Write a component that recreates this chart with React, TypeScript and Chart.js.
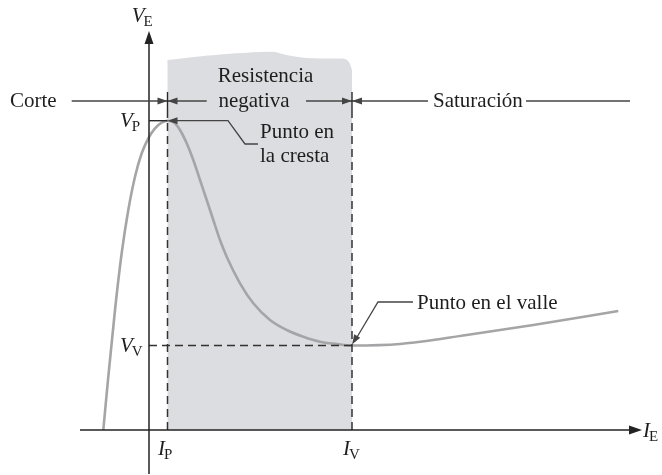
import { useEffect, useRef } from 'react';
import { Chart, registerables } from 'chart.js';
Chart.register(...registerables);

// Units: x = emitter current I_E (arbitrary units), y = emitter voltage V_E (arbitrary units)
const curveI = [-4.57, -4.07, -3.4, -2.73, -2.07, -1.4, -0.73, -0.07, 0.6, 1.27, 1.85, 2.5, 3.1, 3.77, 4.43, 5.1, 5.77, 6.43, 7.1, 7.77, 9.1, 10.43, 12.1, 13.77, 15.43, 17.1, 18.77, 20.27, 25.1, 31.77, 38.43, 46.93];
const curveV = [0, 5.33, 12.0, 17.7, 22.0, 25.33, 27.67, 29.17, 30.17, 30.73, 30.93, 30.75, 30.0, 28.67, 27.0, 25.0, 23.0, 21.0, 19.0, 17.33, 14.67, 12.67, 11.0, 10.0, 9.33, 8.83, 8.6, 8.45, 8.6, 9.5, 10.5, 11.9];

// Negative-resistance region outline (top edge)
const shadeI = [1.83, 5.0, 8.77, 12.4, 13.77, 15.77, 18.5, 19.6, 20.05, 20.3];
const shadeV = [37.0, 37.35, 37.67, 37.83, 37.5, 37.2, 37.15, 37.1, 36.7, 36.0];

const IP = 1.85;
const IV = 20.3;
const VP = 30.93;
const VV = 8.45;

const regionLabels = ['Corte', 'Resistencia', 'negativa', 'Saturación'];
const pointLabels = ['Punto en', 'la cresta', 'Punto en el valle'];

const X_MIN = -14.9, X_MAX = 51.3, Y_MIN = -4.5, Y_MAX = 43.0;

const toXY = (xs: number[], ys: number[]) => xs.map((x, i) => ({ x, y: ys[i] }));

const DARK = '#2a2a2a';
const SERIF = '"Liberation Serif", "Times New Roman", Times, "DejaVu Serif", serif';

export default function App() {
  const ref = useRef<HTMLCanvasElement | null>(null);
  useEffect(() => {
    document.body.style.margin = '0';
    const canvas = ref.current;
    if (!canvas) return;
    let chart: any = null;
    let cancelled = false;

    const annot = {
      id: 'annot',
      afterDatasetsDraw(c: any) {
        const ctx = c.ctx as CanvasRenderingContext2D;
        const X = (v: number) => c.scales.x.getPixelForValue(v);
        const Y = (v: number) => c.scales.y.getPixelForValue(v);
        ctx.save();

        const line = (pts: number[][], w = 1.4, color = DARK) => {
          ctx.beginPath();
          ctx.strokeStyle = color;
          ctx.lineWidth = w;
          ctx.setLineDash([]);
          pts.forEach((p, i) => {
            const px = X(p[0]), py = Y(p[1]);
            if (i === 0) ctx.moveTo(px, py); else ctx.lineTo(px, py);
          });
          ctx.stroke();
        };
        const arrowHead = (fx: number, fy: number, tx: number, ty: number, len = 10, hw = 3.5, color = DARK) => {
          const x1 = X(fx), y1 = Y(fy), x2 = X(tx), y2 = Y(ty);
          const a = Math.atan2(y2 - y1, x2 - x1);
          ctx.beginPath();
          ctx.fillStyle = color;
          ctx.moveTo(x2, y2);
          ctx.lineTo(x2 - len * Math.cos(a) + hw * Math.sin(a), y2 - len * Math.sin(a) - hw * Math.cos(a));
          ctx.lineTo(x2 - len * Math.cos(a) - hw * Math.sin(a), y2 - len * Math.sin(a) + hw * Math.cos(a));
          ctx.closePath();
          ctx.fill();
        };

        // Axes
        line([[-6.9, 0], [48.5, 0]], 1.5, '#222');
        arrowHead(-6.9, 0, 49.3, 0, 13, 4.5, '#222');
        line([[0, -4.4], [0, 39.0]], 1.5, '#222');
        arrowHead(0, -4.4, 0, 39.9, 13, 4.5, '#222');

        // Region line (Corte / Resistencia negativa / Saturación)
        const yr = 32.9;
        const g = '#444';
        line([[-7.73, yr], [IP, yr]], 1.3, g);
        arrowHead(-7.73, yr, IP, yr, 10, 3.5, g);
        line([[IP, yr], [5.77, yr]], 1.3, g);
        arrowHead(5.77, yr, IP, yr, 10, 3.5, g);
        line([[15.7, yr], [IV, yr]], 1.3, g);
        arrowHead(15.7, yr, IV, yr, 10, 3.5, g);
        line([[IV, yr], [27.9, yr]], 1.3, g);
        arrowHead(27.9, yr, IV, yr, 10, 3.5, g);
        line([[37.7, yr], [48.1, yr]], 1.3, g);
        line([[IP, 33.8], [IP, 32.0]], 1.4, DARK);
        line([[IV, 33.8], [IV, 32.0]], 1.4, DARK);

        // Peak leader
        line([[IP + 0.6, VP], [7.9, VP], [9.6, 28.6], [10.9, 28.6]], 1.3, g);
        arrowHead(7.9, VP, IP, VP, 10, 3.5, g);
        // Valley leader
        line([[26.4, 12.8], [22.9, 12.8], [IV + 0.3, VV + 0.5]], 1.3, g);
        arrowHead(22.9, 12.8, IV, VV + 0.1, 10, 3.5, g);

        // Texts
        ctx.fillStyle = '#1e1e1e';
        ctx.textBaseline = 'alphabetic';
        ctx.font = `21px ${SERIF}`;
        ctx.textAlign = 'left';
        ctx.fillText(regionLabels[0], X(-13.9), Y(32.3));
        ctx.textAlign = 'center';
        ctx.fillText(regionLabels[1], X(11.65), Y(34.8));
        ctx.fillText(regionLabels[2], X(10.5), Y(32.3));
        ctx.textAlign = 'left';
        ctx.fillText(regionLabels[3], X(28.4), Y(32.3));
        ctx.fillText(pointLabels[0], X(11.1), Y(29.2));
        ctx.fillText(pointLabels[1], X(11.1), Y(26.8));
        ctx.fillText(pointLabels[2], X(26.8), Y(12.1));

        const sub = (main: string, s: string, x: number, y: number) => {
          ctx.textAlign = 'left';
          ctx.font = `italic 21px ${SERIF}`;
          const px = X(x), py = Y(y);
          ctx.fillText(main, px, py);
          const w = ctx.measureText(main).width;
          ctx.font = `15px ${SERIF}`;
          ctx.fillText(s, px + w - 1, py + 4);
        };
        sub('V', 'E', -1.73, 40.8);
        sub('V', 'P', -2.9, 30.3);
        sub('V', 'V', -2.9, 7.8);
        sub('I', 'P', 0.9, -2.5);
        sub('I', 'V', 19.4, -2.5);
        sub('I', 'E', 49.4, -0.7);

        ctx.restore();
      },
    };

    const dashed = { borderColor: '#333', borderWidth: 1.5, borderDash: [8, 5], pointRadius: 0, showLine: true, fill: false };

    const build = () => {
      if (cancelled) return;
      chart = new Chart(canvas, {
        type: 'scatter',
        data: {
          datasets: [
            { data: toXY([0, IV], [VV, VV]), ...dashed, order: 1 },
            { data: toXY([IP, IP], [0, 32.0]), ...dashed, order: 1 },
            { data: toXY([IV, IV], [0, 32.0]), ...dashed, order: 1 },
            { data: toXY([0, IP], [VP, VP]), borderColor: DARK, borderWidth: 1.4, pointRadius: 0, showLine: true, fill: false, order: 1 },
            {
              data: toXY(curveI, curveV),
              borderColor: '#a5a5a7',
              borderWidth: 2.6,
              pointRadius: 0,
              showLine: true,
              fill: false,
              cubicInterpolationMode: 'monotone',
              order: 2,
            },
            {
              data: toXY(shadeI, shadeV),
              borderColor: 'rgba(0,0,0,0)',
              borderWidth: 0,
              backgroundColor: '#dcdde0',
              pointRadius: 0,
              showLine: true,
              fill: 'origin',
              tension: 0.3,
              order: 10,
            },
          ] as any,
        },
        options: {
          animation: false,
          responsive: false,
          maintainAspectRatio: false,
          layout: { padding: 0 },
          plugins: { legend: { display: false }, tooltip: { enabled: false } },
          scales: {
            x: { type: 'linear', min: X_MIN, max: X_MAX, display: false },
            y: { type: 'linear', min: Y_MIN, max: Y_MAX, display: false },
          },
        },
        plugins: [annot],
      });
    };

    const fonts: any = (document as any).fonts;
    if (fonts && fonts.load) {
      Promise.all([
        fonts.load('21px "Liberation Serif"'),
        fonts.load('italic 21px "Liberation Serif"'),
      ]).then(build, build);
    } else {
      build();
    }
    return () => {
      cancelled = true;
      if (chart) chart.destroy();
    };
  }, []);

  return (
    <div style={{ width: 662, height: 475, background: '#fff' }}>
      <canvas ref={ref} width={662} height={475} style={{ display: 'block' }} />
    </div>
  );
}
